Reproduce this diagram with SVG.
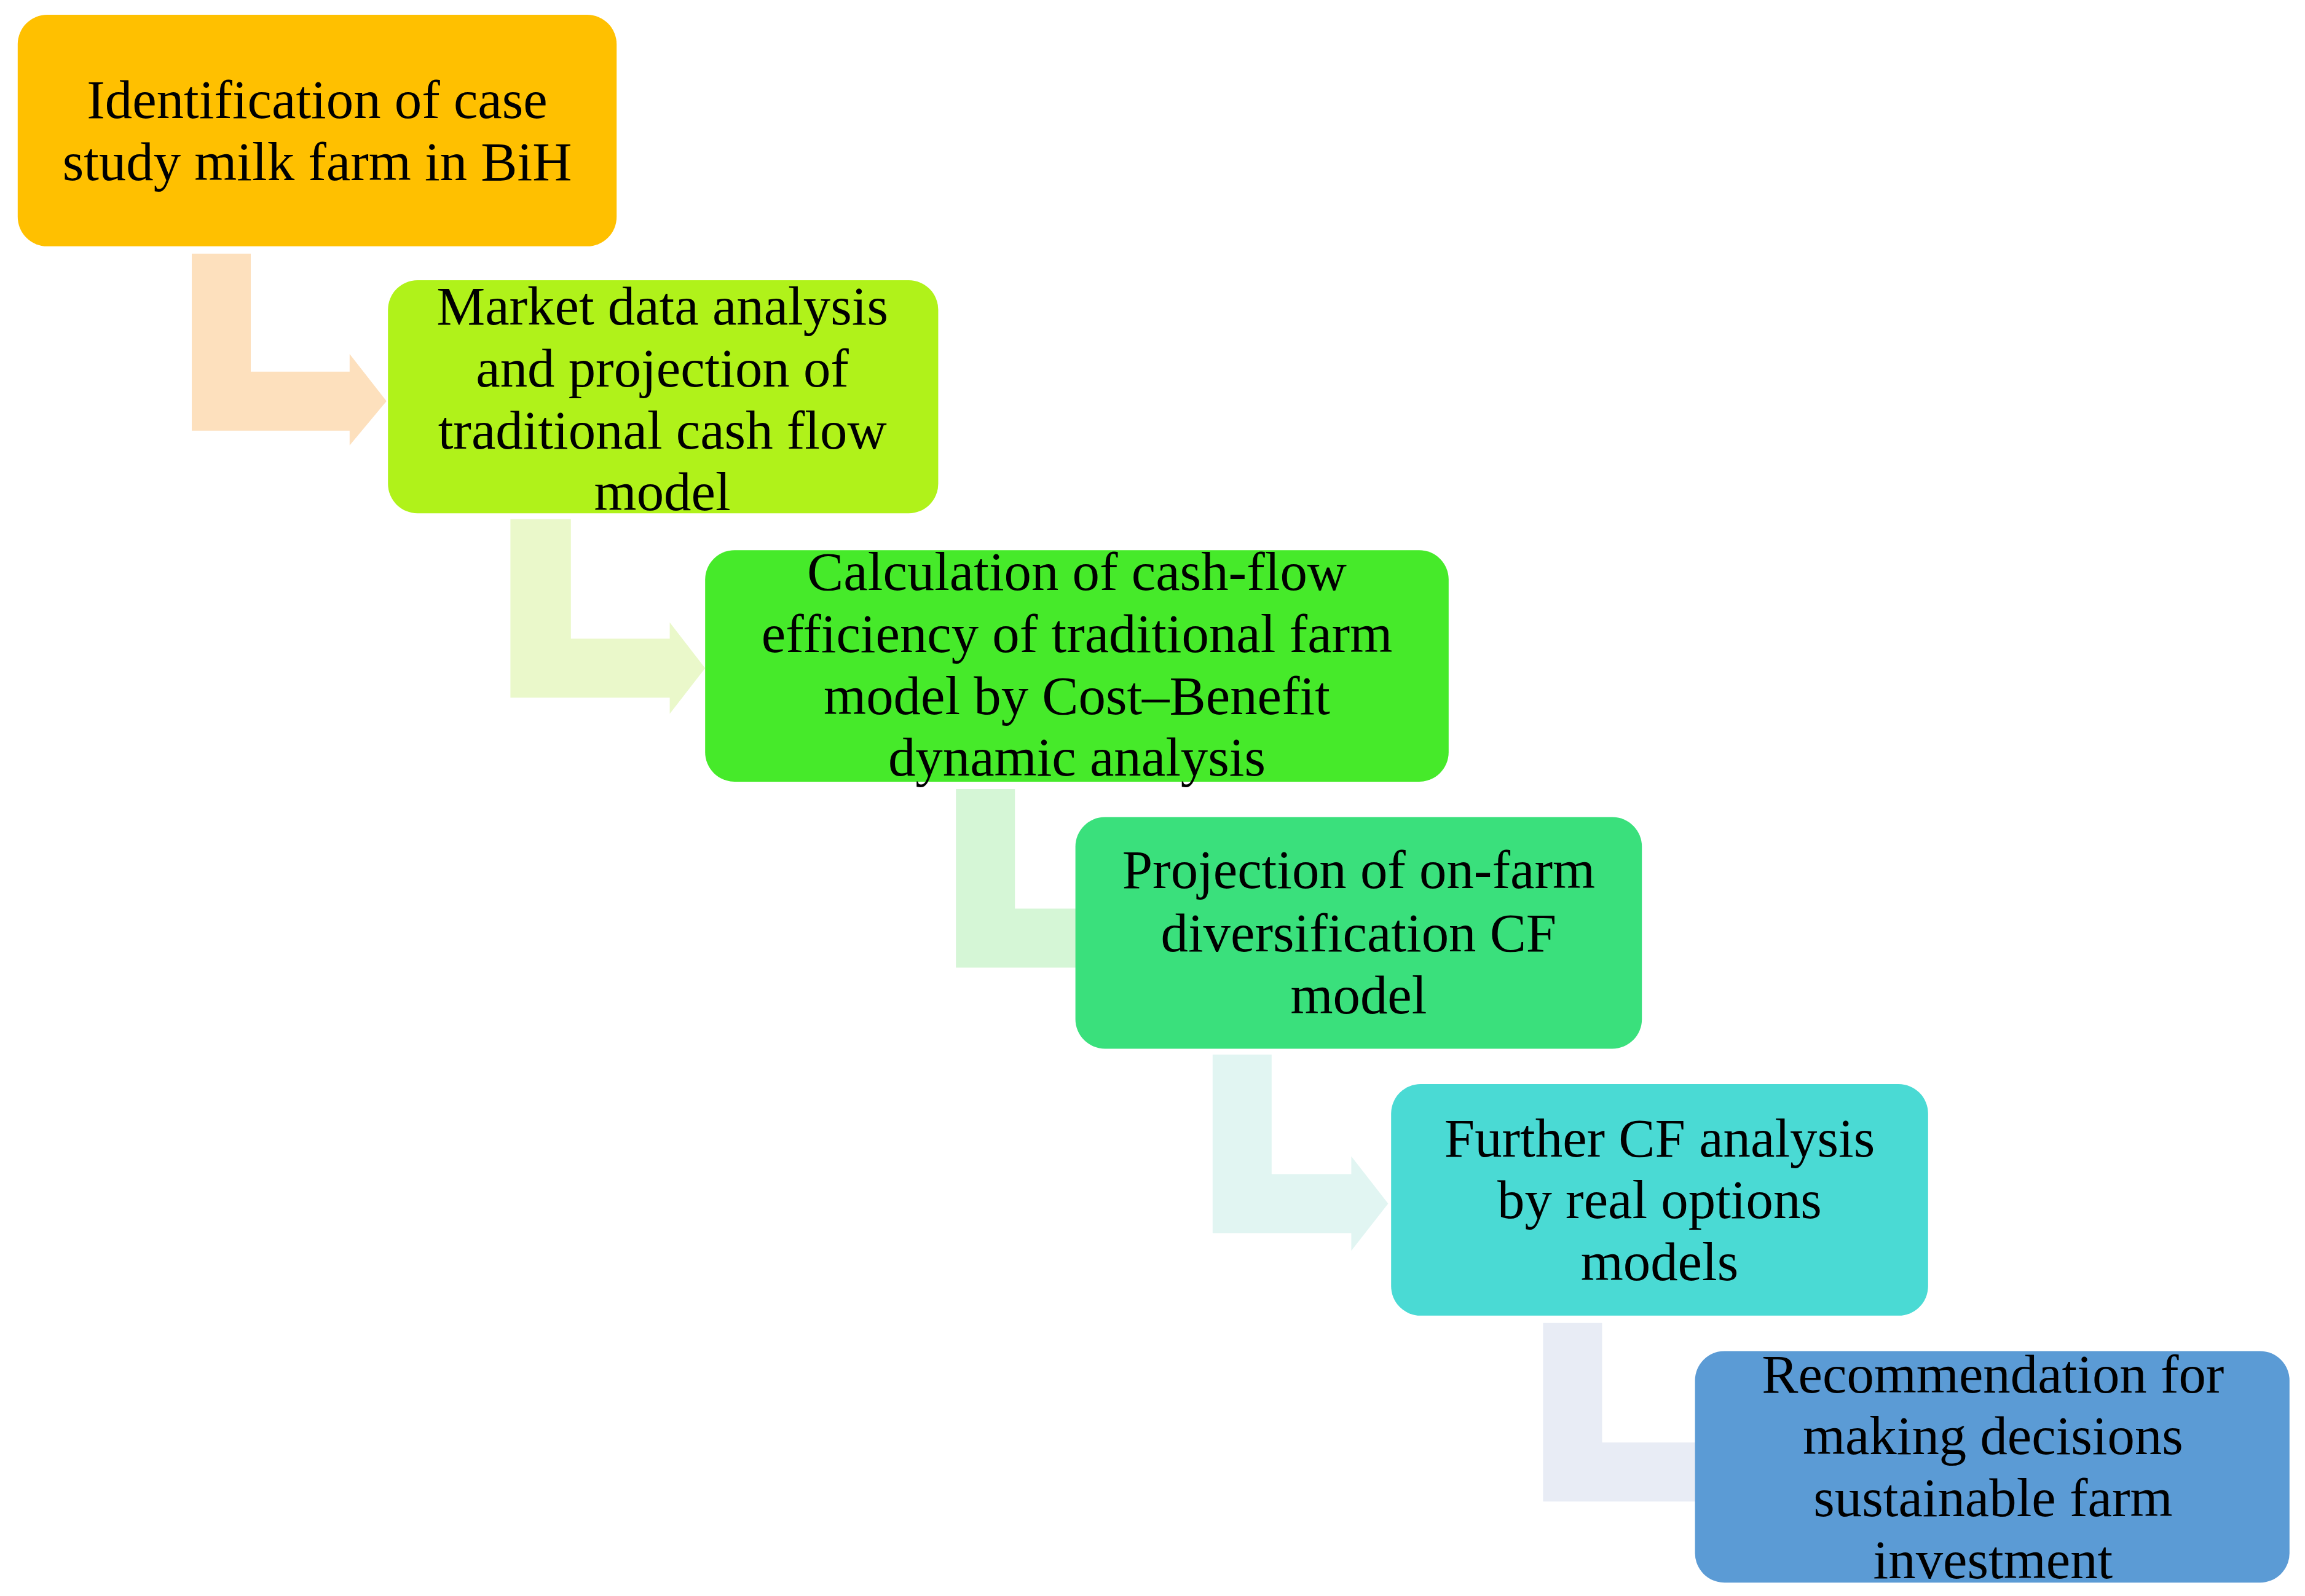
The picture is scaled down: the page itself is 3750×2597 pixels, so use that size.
<svg xmlns="http://www.w3.org/2000/svg" width="3750" height="2597" viewBox="0 0 3750 2597">
<style>
text{font-family:"Liberation Serif","DejaVu Serif",serif;font-size:37px;fill:#000;text-anchor:middle}
</style>
<rect width="3750" height="2597" fill="#fff"/>
<g transform="scale(2.4)">
<g id="connectors">
<path d="M130,172 H170 V252 H237 V240 L262,272 L237,302 V292 H130 Z" fill="#FDE0BD"/>
<path d="M346,352 H387 V433 H454 V422 L478,453 L454,484 V473 H346 Z" fill="#EAF8CA"/>
<path d="M648,535 H688 V616 H740 V604 L765,636 L740,668 V656 H648 Z" fill="#D5F6D6"/>
<path d="M822,715 H862 V796 H916 V784 L941,816 L916,848 V836 H822 Z" fill="#E1F5F2"/>
<path d="M1046,897 H1086 V978 H1160 V966 L1185,998 L1160,1030 V1018 H1046 Z" fill="#E8ECF5"/>
</g>
<g id="n1"><rect x="12" y="10" width="406" height="157" rx="20" fill="#FFC000"/>
<text x="215" y="80">Identification of case</text><text x="215" y="122">study milk farm in BiH</text></g>
<g id="n2"><rect x="263" y="190" width="373" height="158" rx="20" fill="#B0F21A"/>
<text x="449" y="220">Market data analysis</text><text x="449" y="262">and projection of</text><text x="449" y="304">traditional cash flow</text><text x="449" y="346">model</text></g>
<g id="n3"><rect x="478" y="373" width="504" height="157" rx="20" fill="#46EA2A"/>
<text x="730" y="400">Calculation of cash-flow</text><text x="730" y="442">efficiency of traditional farm</text><text x="730" y="484">model by Cost–Benefit</text><text x="730" y="526">dynamic analysis</text></g>
<g id="n4"><rect x="729" y="554" width="384" height="157" rx="20" fill="#3AE07C"/>
<text x="921" y="602">Projection of on-farm</text><text x="921" y="645">diversification CF</text><text x="921" y="687">model</text></g>
<g id="n5"><rect x="943" y="735" width="364" height="157" rx="20" fill="#4ADAD4"/>
<text x="1125" y="784">Further CF analysis</text><text x="1125" y="826">by real options</text><text x="1125" y="868">models</text></g>
<g id="n6"><rect x="1149" y="916" width="403" height="157" rx="20" fill="#5B9BD5"/>
<text x="1351" y="944">Recommendation for</text><text x="1351" y="986">making decisions</text><text x="1351" y="1028">sustainable farm</text><text x="1351" y="1070">investment</text></g>
</g>
</svg>
